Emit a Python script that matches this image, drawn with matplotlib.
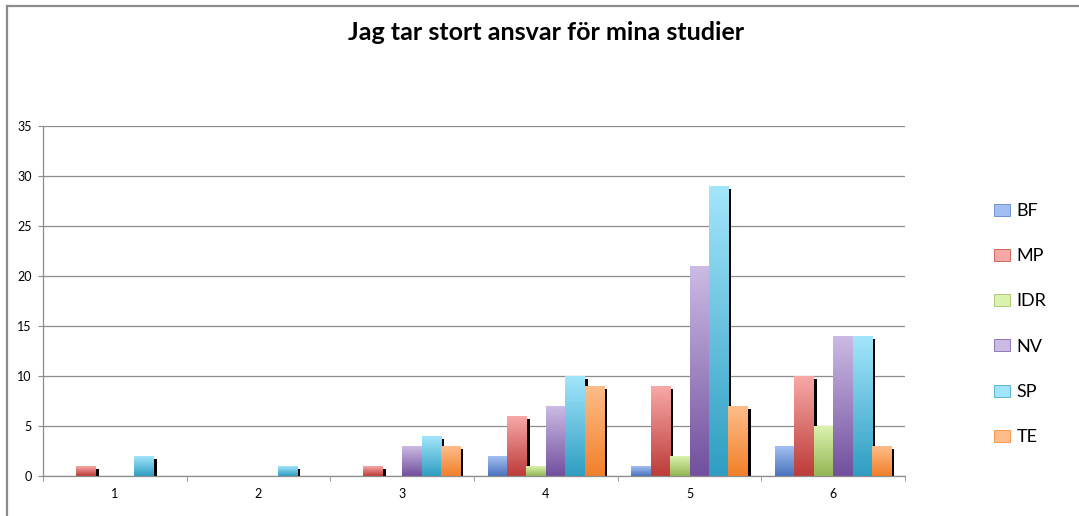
import numpy as np
import matplotlib.pyplot as plt
from matplotlib.colors import LinearSegmentedColormap
from matplotlib.patches import Patch
from matplotlib.lines import Line2D

categories = ['1', '2', '3', '4', '5', '6']
series = ['BF', 'MP', 'IDR', 'NV', 'SP', 'TE']
bf = [0, 0, 0, 2, 1, 3]
mp = [1, 0, 1, 6, 9, 10]
idr = [0, 0, 0, 1, 2, 5]
nv = [0, 0, 3, 7, 21, 14]
sp = [2, 1, 4, 10, 29, 14]
te = [0, 0, 3, 9, 7, 3]

# (top colour, bottom colour) for the gradient fill
colors = [('#a3bff2', '#4a74bd'),
          ('#f6a8a6', '#bd3c3a'),
          ('#daf2ad', '#95b654'),
          ('#cbbae3', '#72509e'),
          ('#a2e5fb', '#2f9ec2'),
          ('#fdbc89', '#f2802a')]

values = [bf, mp, idr, nv, sp, te]

fig = plt.figure(figsize=(10.79, 5.16), dpi=100)
ax = fig.add_axes([43 / 1079, 40 / 516, 862 / 1079, 350 / 516])

x = np.arange(len(categories))
w = 0.1346
grad = np.linspace(1, 0, 64).reshape(-1, 1)

for j, (vals, (top, bottom)) in enumerate(zip(values, colors)):
    cmap = LinearSegmentedColormap.from_list(series[j], [bottom, top])
    for i, v in enumerate(vals):
        if v <= 0:
            continue
        x0 = x[i] + (j - 3) * w
        # shadow on the right
        ax.bar(x0 + 0.021, v - 0.3, width=w, align='edge', color='black',
               zorder=2)
        ax.imshow(grad, extent=[x0, x0 + w, 0, v], aspect='auto', cmap=cmap,
                  origin='upper', zorder=3, interpolation='bilinear')

ax.set_xlim(-0.5, 5.5)
ax.set_ylim(0, 35)
ax.set_yticks(range(0, 36, 5))
ax.set_xticks(x)
ax.set_xticklabels(categories)
ax.set_xticks(np.arange(-0.5, 6, 1), minor=True)
ax.tick_params(axis='x', which='major', length=0, pad=8.5, labelsize=9)
ax.tick_params(axis='x', which='minor', length=3.6, color='#8c8c8c')
ax.tick_params(axis='y', length=3.6, color='#8c8c8c', labelsize=9, pad=4.5)
ax.grid(axis='y', color='#8c8c8c', linewidth=0.9, zorder=1)
ax.set_axisbelow(True)
for s in ['top', 'right']:
    ax.spines[s].set_visible(False)
for s in ['left', 'bottom']:
    ax.spines[s].set_color('#8c8c8c')
    ax.spines[s].set_linewidth(0.9)
    ax.spines[s].set_zorder(4)
for lbl in ax.get_xticklabels() + ax.get_yticklabels():
    lbl.set_family('Lato')

handles = [Patch(facecolor=c[0], edgecolor=c[1], linewidth=0.5) for c in colors]
fig.legend(handles, series, loc='center left', bbox_to_anchor=(0.921, 0.372),
           frameon=False, prop={'family': 'Lato', 'size': 13},
           labelspacing=1.62, handlelength=0.9, handleheight=0.65,
           handletextpad=0.35, borderpad=0, borderaxespad=0)

fig.text(546 / 1079, 1 - 33 / 516, 'Jag tar stort ansvar för mina studier',
         ha='center', va='center', fontsize=18, fontweight='bold',
         family='Lato')

fig.add_artist(Line2D([7 / 1079, 1], [1 - 6 / 516, 1 - 6 / 516],
                      color='#8c8c8c', linewidth=1.6))
fig.add_artist(Line2D([7 / 1079, 7 / 1079], [0, 1 - 6 / 516],
                      color='#8c8c8c', linewidth=1.6))

fig.savefig('out.png', dpi=100)
